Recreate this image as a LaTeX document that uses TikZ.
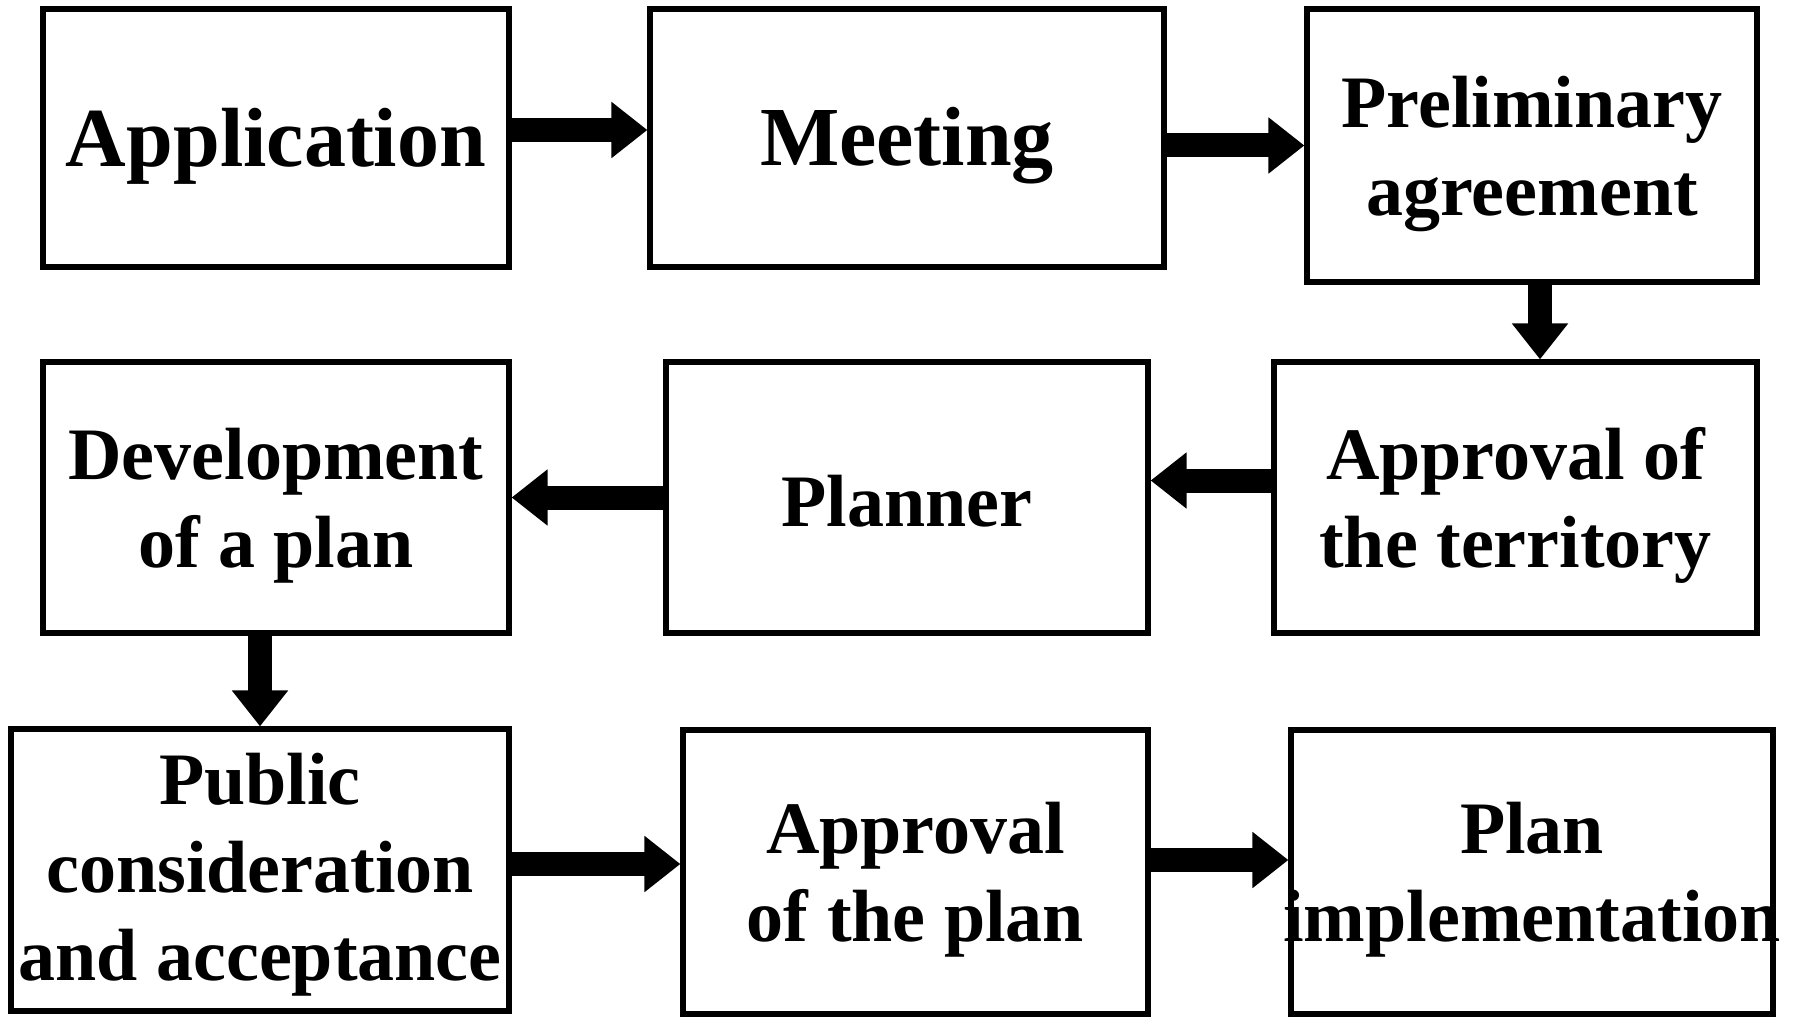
\documentclass[tikz,border=0pt]{standalone}
\usepackage{fontspec}
\setmainfont{Liberation Serif}
\usetikzlibrary{arrows.meta}

\begin{document}
\begin{tikzpicture}[x=0.5pt, y=-0.5pt,
	blk/.style={draw, line width=2.6pt, inner sep=0pt},
	txt/.style={align=center, inner sep=0pt, yshift=-4pt, font=\fontsize{37}{44}\selectfont\bfseries},
	big/.style={font=\fontsize{42}{48}\selectfont\bfseries},
	flow/.style={line width=12pt, -{Triangle[width=27pt,length=18pt]}}]
	\useasboundingbox (0,0) rectangle (1802,1016);
	
	%First row
	\node[blk, minimum width=233pt, minimum height=129pt] (app) at (276,138) {};
	\node[txt, big] (appT) at (app) {Application};
	
	\node[blk, minimum width=257pt, minimum height=129pt] (meet) at (907,138) {};
	\node[txt, big] (meetT) at (meet) {Meeting};
	
	\node[blk, minimum width=225pt, minimum height=136.5pt] (prel) at (1532,145.5) {};
	\node[txt] (prelT) at (prel) {Preliminary\\agreement};
	
	%Second row
	\node[blk, minimum width=233pt, minimum height=135.5pt] (dev) at (276,497.5) {};
	\node[txt] (devT) at (dev) {Development\\of a plan};
	
	\node[blk, minimum width=241pt, minimum height=135.5pt] (plnr) at (907,497.5) {};
	\node[txt, yshift=2pt] (plnrT) at (plnr) {Planner};
	
	\node[blk, minimum width=241.5pt, minimum height=135.5pt] (terr) at (1515.5,497.5) {};
	\node[txt] (terrT) at (terr) {Approval of\\the territory};
	
	%Third row
	\node[blk, minimum width=249pt, minimum height=141pt] (pub) at (260,870) {};
	\node[txt, yshift=1.5pt] (pubT) at (pub) {Public\\consideration\\and acceptance};
	
	\node[blk, minimum width=232.5pt, minimum height=142pt] (aplan) at (915.5,872) {};
	\node[txt] (aplanT) at (aplan) {Approval\\of the plan};
	
	\node[blk, minimum width=241pt, minimum height=142pt] (impl) at (1532,872) {};
	\node[txt] (implT) at (impl) {Plan\\implementation};
	
	%Arrows
	\draw[flow] ([yshift=4pt]app.east) -- ([yshift=4pt]app.east -| meet.west);
	\draw[flow] (meet.east |- prel.west) -- (prel.west);
	\draw[flow] ([xshift=4pt]prel.south) -- ([xshift=4pt]prel.south |- terr.north);
	\draw[flow] ([yshift=8.5pt]terr.west) -- ([yshift=8.5pt]terr.west -| plnr.east);
	\draw[flow] (plnr.west) -- (dev.east);
	\draw[flow] (dev.south -| pub.north) -- (pub.north);
	\draw[flow] ([yshift=3pt]pub.east) -- ([yshift=3pt]pub.east -| aplan.west);
	\draw[flow] ([yshift=6pt]aplan.east) -- ([yshift=6pt]aplan.east -| impl.west);
\end{tikzpicture}
\end{document}
